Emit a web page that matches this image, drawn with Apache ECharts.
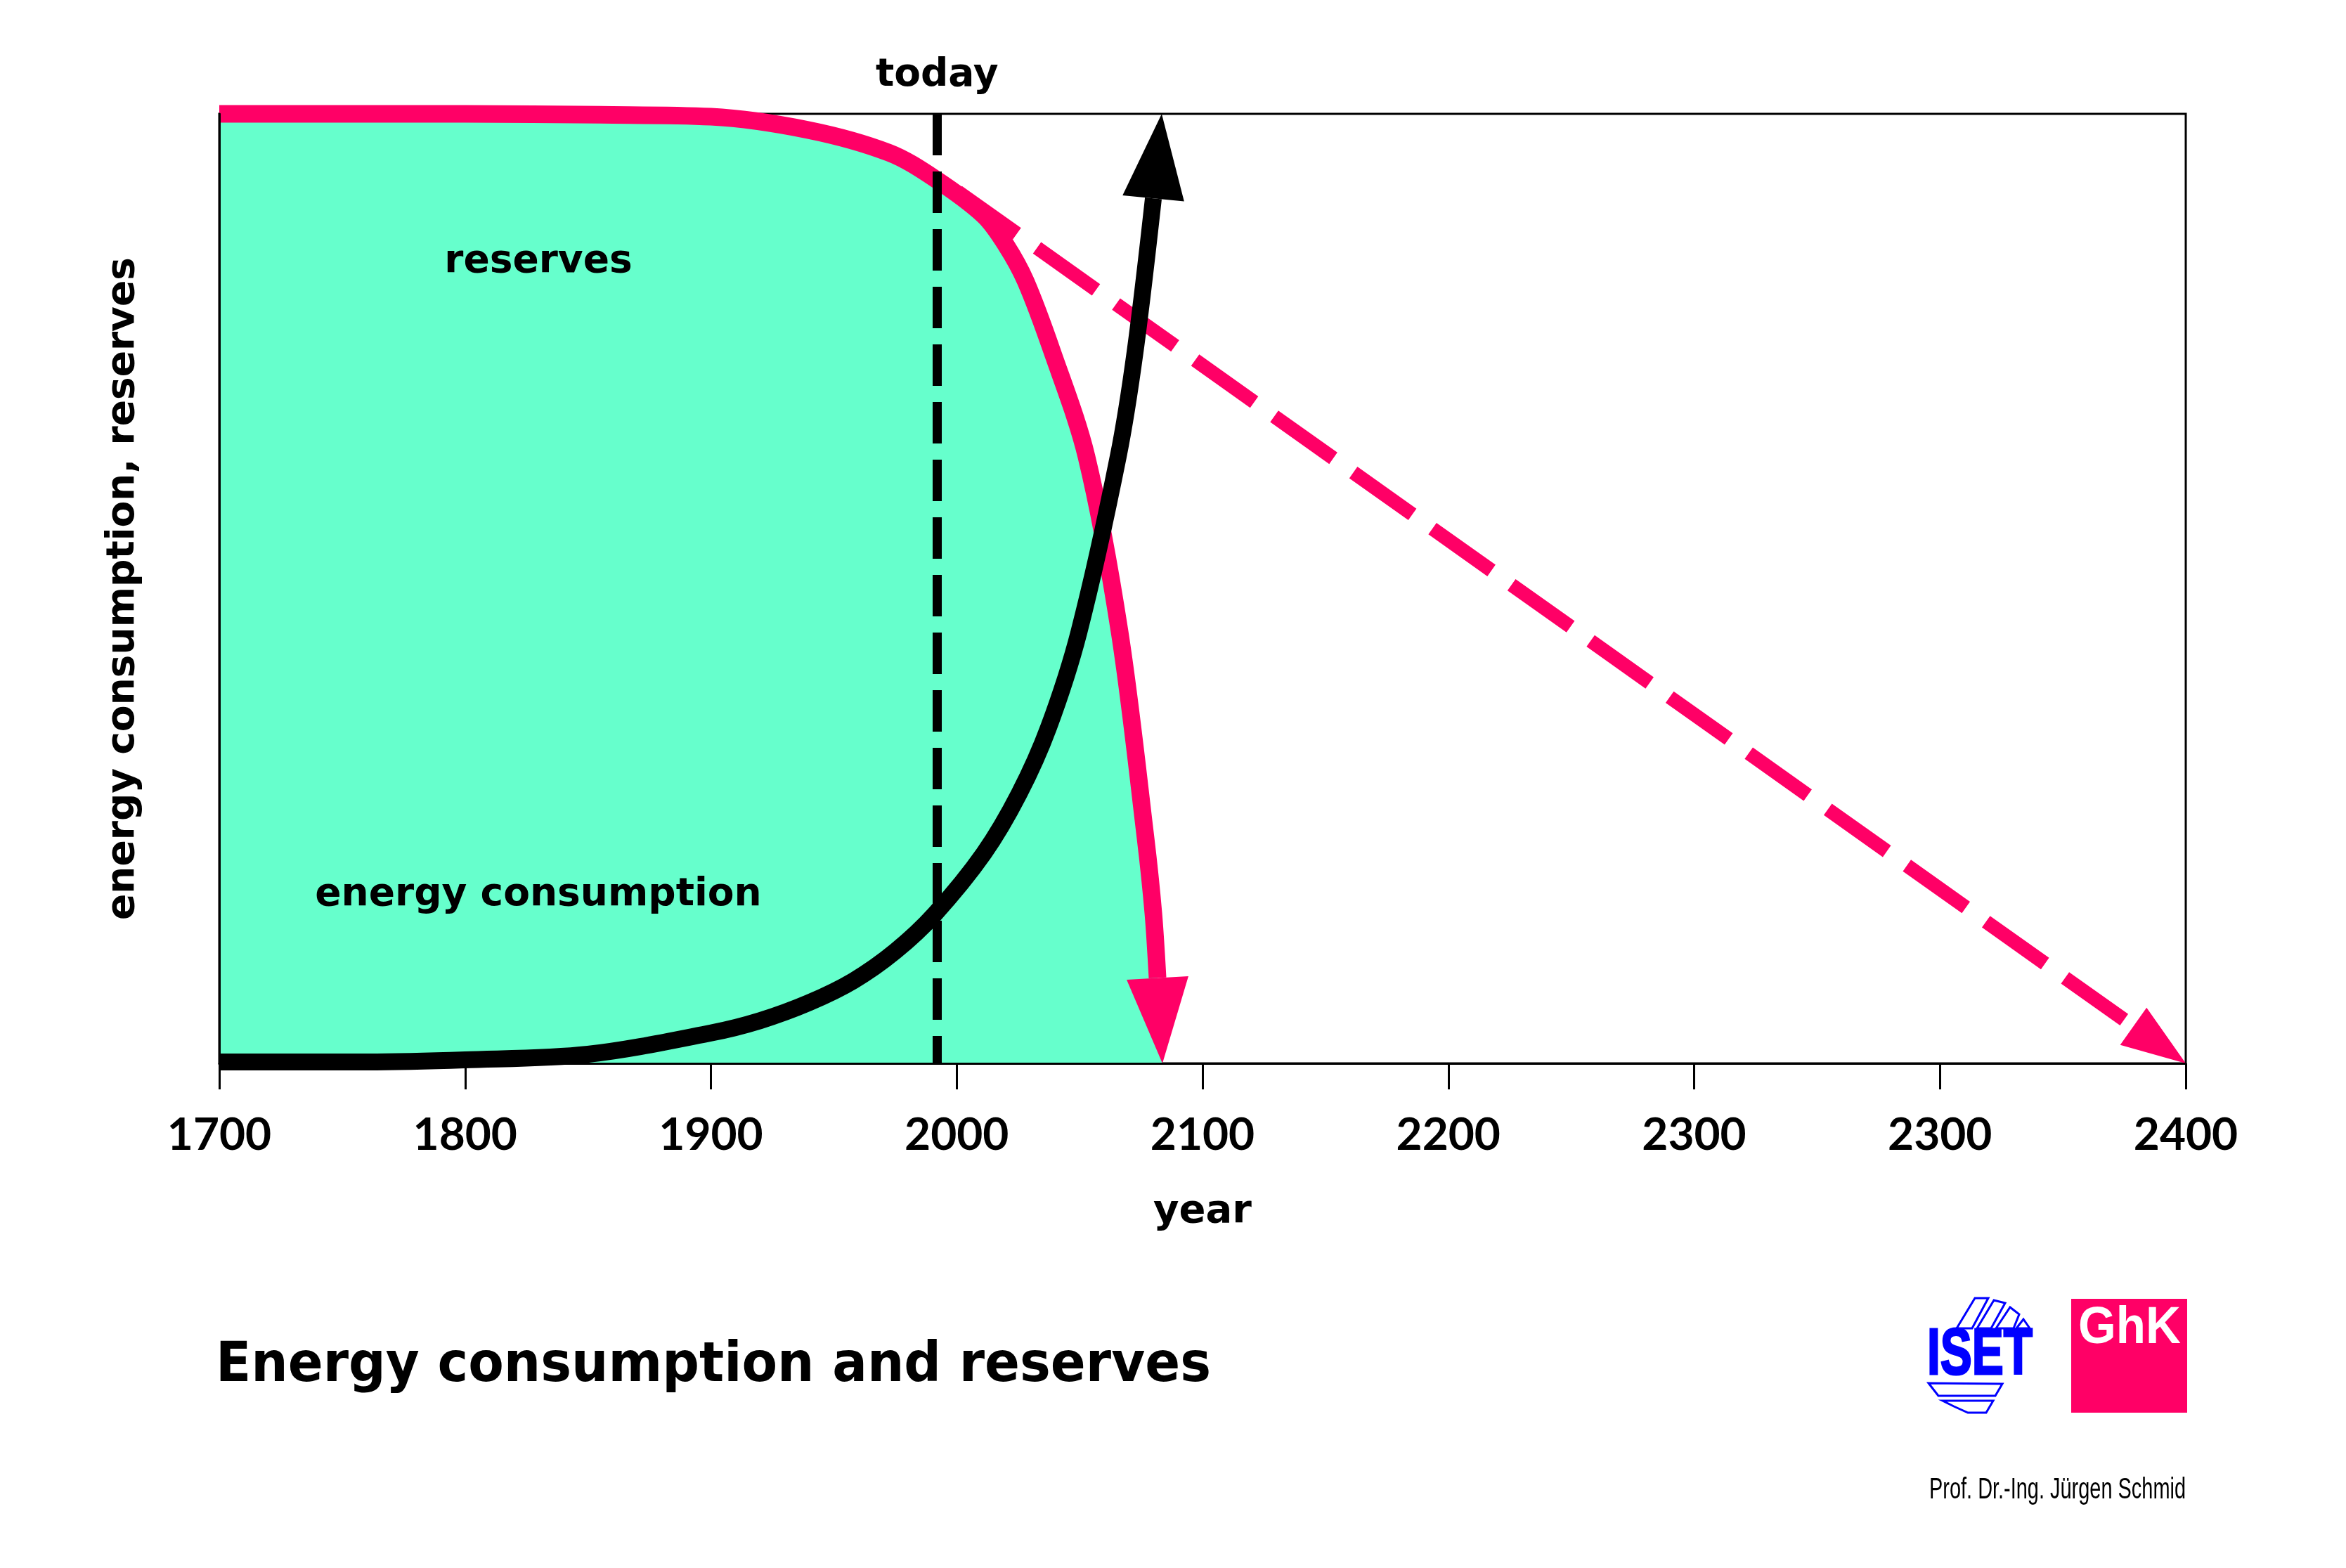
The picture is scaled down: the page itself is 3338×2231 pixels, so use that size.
<!DOCTYPE html>
<html><head><meta charset="utf-8">
<script src="https://cdn.jsdelivr.net/npm/echarts@6/dist/echarts.min.js"></script>
<style>html,body{margin:0;padding:0;background:#fff}#c{width:3338px;height:2231px}</style>
</head><body><div id="c"></div>
<script>
// ---- data (x in year positions of the axis, y in relative units 0..100) ----
const tickLabels = ['1700','1800','1900','2000','2100','2200','2300','2300','2400'];
const reserves = [[1700,100],[1800,100],[1855,99.9],[1900,99.7],[1939.6,98.3],[1972.5,95.9],
  [1991,93.2],[2011,89.3],[2020,86.2],[2028,82.4],[2038.8,75.0],[2052.8,63.9],[2066.3,45.4],
  [2076.8,23.8],[2080,15.8],[2081.7,9.0],[2083.7,0]];
const consumption = [[1700,0.15],[1760,0.15],[1800,0.37],[1850,0.96],[1900,3.2],[1920,4.5],[1940,6.4],
  [1958,8.7],[1975,11.8],[1991,15.7],[2011,22.1],[2025.4,28.4],[2037.4,35.4],[2049.7,45.4],[2065.7,63.9],
  [2072.6,75.0],[2080,91.1],[2083.4,100]];
const reservesProjection = [[2000.5,91.8],[2478.7,3.9],[2500,0]];
const todayYear = 1992;

const PINK = '#FF0066', TEAL = '#66FFCC', BLUE = '#0000FF';
const WORD_FONT = '"DejaVu Sans", sans-serif';
const DIGIT_FONT = 'Lato, "DejaVu Sans", sans-serif';

function fit(text, font, target) {
  const c = document.createElement('canvas').getContext('2d');
  c.font = font;
  return target / c.measureText(text).width;
}

function arrowSeries(points, color, width, z) {
  const n = points.length;
  return {
    type: 'custom', z: z, silent: true, clip: false,
    data: [[points[n-2][0], points[n-2][1], points[n-1][0], points[n-1][1]]],
    encode: {x: [0, 2], y: [1, 3]},
    renderItem: function (params, api) {
      const b = api.coord([api.value(0), api.value(1)]);
      const t = api.coord([api.value(2), api.value(3)]);
      let dx = t[0]-b[0], dy = t[1]-b[1];
      const L = Math.hypot(dx, dy); dx /= L; dy /= L;
      const nx = -dy, ny = dx, h = width/2;
      return {type: 'polygon', shape: {points: [t, [b[0]+nx*h, b[1]+ny*h], [b[0]-nx*h, b[1]-ny*h]]},
              style: {fill: color}};
    }
  };
}

const chart = echarts.init(document.getElementById('c'), null, {renderer: 'canvas'});

const titleText = 'Energy consumption and reserves';
const titleFont = 'bold 78px "DejaVu Sans"';
const creditText = 'Prof. Dr.-Ing. Jürgen Schmid';
const creditFont = '43px "Liberation Sans Narrow", "Liberation Sans"';
const isetFont = 'bold 92px "Liberation Sans Narrow", "Liberation Sans"';
const ghkFont = 'bold 75px "Liberation Sans"';

const lineCommon = {type: 'line', symbol: 'none', smooth: 0.33, clip: false,
  silent: true, animation: false};

chart.setOption({
  animation: false,
  backgroundColor: '#fff',
  grid: {left: 312, top: 162, width: 2798, height: 1351, show: true, borderColor: '#000', borderWidth: 3,
         containLabel: false, outerBoundsMode: 'none'},
  xAxis: {
    type: 'value', min: 1700, max: 2500, interval: 100, z: 10,
    axisLine: {show: true, lineStyle: {color: '#000', width: 3}},
    axisTick: {show: true, length: 37, lineStyle: {color: '#000', width: 3}},
    axisLabel: {show: true, margin: 70, color: '#000', fontFamily: DIGIT_FONT, fontWeight: 'bold', fontSize: 64,
      formatter: function (v) { return tickLabels[Math.round((v - 1700) / 100)]; }},
    splitLine: {show: false},
    name: 'year', nameLocation: 'middle', nameGap: 183,
    nameTextStyle: {color: '#000', fontFamily: WORD_FONT, fontWeight: 'bold', fontSize: 56}
  },
  yAxis: {
    type: 'value', min: 0, max: 100, z: 10,
    axisLine: {show: true, lineStyle: {color: '#000', width: 3}},
    axisTick: {show: false}, axisLabel: {show: false}, splitLine: {show: false},
    name: 'energy consumption, reserves', nameLocation: 'middle', nameRotate: 90, nameGap: 109,
    nameTextStyle: {color: '#000', fontFamily: WORD_FONT, fontWeight: 'bold', fontSize: 55}
  },
  series: [
    Object.assign({}, lineCommon, {name: 'reserves area', z: 1, data: reserves,
      lineStyle: {width: 0, color: TEAL}, areaStyle: {color: TEAL, opacity: 1}}),
    Object.assign({}, lineCommon, {name: 'reserves', z: 3, data: reserves.slice(0, -1),
      lineStyle: {width: 25, color: PINK, cap: 'butt'}}),
    arrowSeries(reserves, PINK, 88, 3),
    Object.assign({}, lineCommon, {name: 'reserves projection', z: 3, smooth: false,
      data: reservesProjection.slice(0, -1),
      lineStyle: {width: 20, color: PINK, type: [103, 35]}}),
    arrowSeries(reservesProjection, PINK, 65, 3),
    Object.assign({}, lineCommon, {name: 'energy consumption', z: 4, data: consumption.slice(0, -1),
      lineStyle: {width: 24, color: '#000'}}),
    arrowSeries(consumption, '#000', 88, 4),
    {type: 'line', name: 'today', z: 5, data: [], silent: true,
      markLine: {silent: true, symbol: ['none', 'none'], animation: false,
        data: [[{coord: [todayYear, 100]}, {coord: [todayYear, 0]}]],
        lineStyle: {color: '#000', width: 13, type: [59, 23]},
        emphasis: {disabled: true},
        label: {show: true, position: 'start', distance: 27, formatter: 'today', color: '#000',
          fontFamily: WORD_FONT, fontWeight: 'bold', fontSize: 55}}}
  ],
  graphic: [
    {type: 'text', x: 766, y: 373, z: 20, style: {text: 'reserves', fill: '#000', font: 'bold 55px "DejaVu Sans"', align: 'center', verticalAlign: 'middle'}},
    {type: 'text', x: 766, y: 1274, z: 20, style: {text: 'energy consumption', fill: '#000', font: 'bold 55px "DejaVu Sans"', align: 'center', verticalAlign: 'middle'}},
    {type: 'text', x: 307, y: 1945, scaleX: fit(titleText, titleFont, 1416), style: {text: titleText, fill: '#000', font: titleFont, align: 'left', verticalAlign: 'middle'}},
    {type: 'text', x: 3110, y: 2120, scaleX: fit(creditText, creditFont, 365), style: {text: creditText, fill: '#000', font: creditFont, align: 'right', verticalAlign: 'middle'}},
    // ISET logo
    {type: 'text', x: 2742, y: 1930, scaleX: fit('ISET', isetFont, 150), style: {text: 'ISET', fill: BLUE, stroke: BLUE, lineWidth: 3, font: isetFont, align: 'left', verticalAlign: 'middle'}},
    {type: 'polygon', shape: {points: [[2784,1890],[2810,1847],[2829,1847],[2806,1890]]}, style: {fill: '#fff', stroke: BLUE, lineWidth: 3}},
    {type: 'polygon', shape: {points: [[2813,1890],[2837,1850],[2853,1854],[2833,1890]]}, style: {fill: '#fff', stroke: BLUE, lineWidth: 3}},
    {type: 'polygon', shape: {points: [[2840,1890],[2860,1860],[2873,1870],[2865,1890]]}, style: {fill: '#fff', stroke: BLUE, lineWidth: 3}},
    {type: 'polygon', shape: {points: [[2869,1890],[2879,1877],[2888,1890]]}, style: {fill: '#fff', stroke: BLUE, lineWidth: 3}},
    {type: 'polygon', shape: {points: [[2744,1968],[2849,1969],[2839,1986],[2758,1986]]}, style: {fill: '#fff', stroke: BLUE, lineWidth: 3}},
    {type: 'polygon', shape: {points: [[2764,1993],[2836,1993],[2826,2010],[2800,2010],[2780,2001]]}, style: {fill: '#fff', stroke: BLUE, lineWidth: 3}},
    // GhK logo
    {type: 'rect', shape: {x: 2947, y: 1848, width: 165, height: 162}, style: {fill: PINK}},
    {type: 'text', x: 2957, y: 1890, z: 5, scaleX: fit('GhK', ghkFont, 146), style: {text: 'GhK', fill: '#fff', font: ghkFont, align: 'left', verticalAlign: 'middle'}}
  ]
});
</script>
</body></html>
